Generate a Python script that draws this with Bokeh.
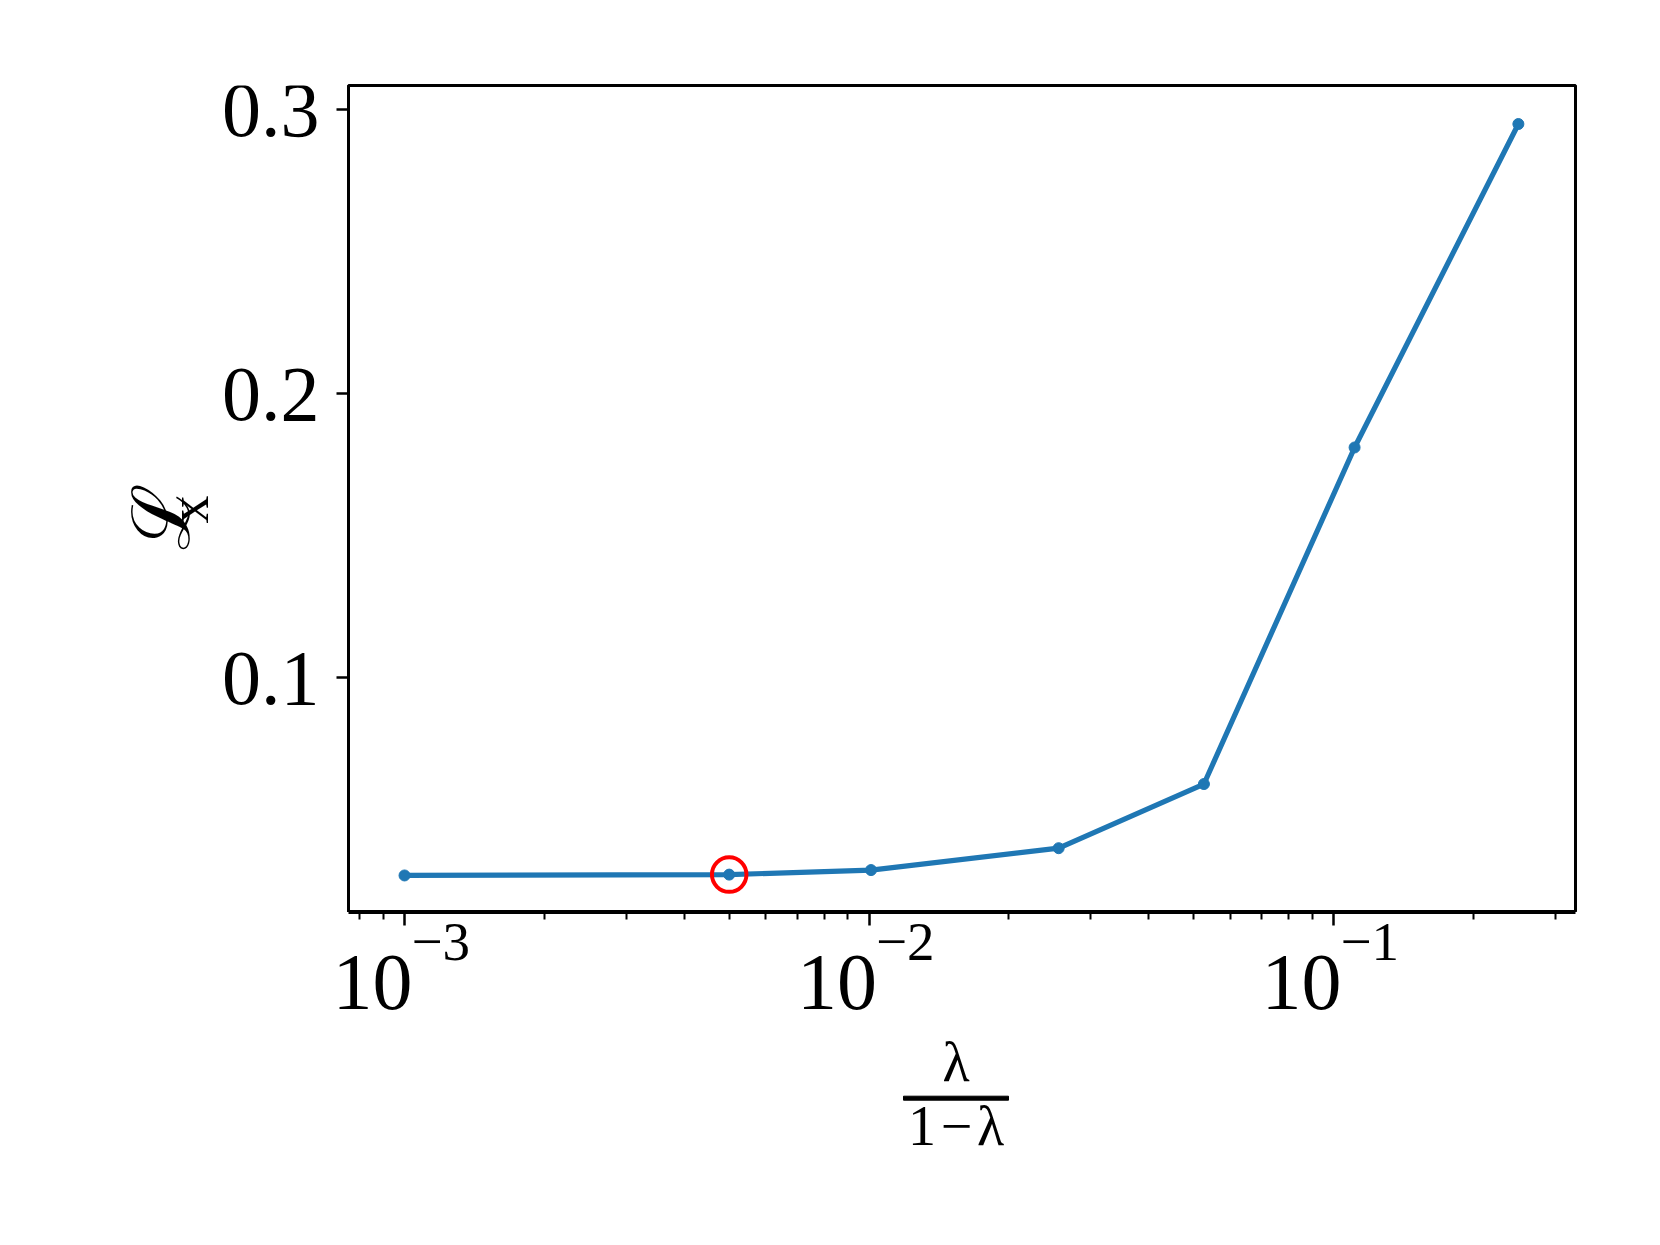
import math
from bokeh.plotting import figure
from bokeh.layouts import column, row
from bokeh.models import FixedTicker, Range1d
from bokeh.core.properties import value
from bokeh.embed import file_html
from bokeh.resources import INLINE

# ---- data ----
ratio = [0.001, 0.005, 0.0101, 0.0256, 0.0526, 0.111, 0.25]      # lambda / (1 - lambda)
loss_x = [0.0304, 0.0307, 0.0323, 0.0400, 0.0626, 0.1811, 0.2950]
highlight_ratio = [0.005]
highlight_loss = [0.0307]

x_tick_values = [0.001, 0.01, 0.1]
x_tick_base = ["10", "10", "10"]
x_tick_exp = ["\u22123", "\u22122", "\u22121"]
y_tick_values = [0.1, 0.2, 0.3]
y_tick_labels = ["0.1", "0.2", "0.3"]
x_label_num = "\u03bb"
x_label_den = "1\u200a\u2212\u200a\u03bb"
y_label_main = "\u2112"
y_label_sub = "x"

FONT = "Liberation Serif"
BLUE = "#1f77b4"

# ---- layout geometry (pixels) ----
AX_W = 14             # room for the y tick marks inside the main figure
FRAME_L = 348         # frame left edge on the page
LEFT_W = FRAME_L - AX_W   # strip with y tick labels and y-axis title
FRAME_W, FRAME_H = 1227, 827
TOP = 85
RIGHT = 70
TOTAL_W = FRAME_L + FRAME_W + RIGHT
TOP_H = TOP + FRAME_H
STRIP_H = 320

L0, L1 = -3.1206, -0.4791   # log10 of x range
dpp = (L1 - L0) / FRAME_W   # decades per pixel
Y0, Y1 = 0.01736, 0.30856   # y range
dpy = (Y1 - Y0) / FRAME_H   # y units per pixel

# ---- main plot ----
p = figure(
    x_axis_type="log",
    x_range=Range1d(10 ** L0, 10 ** L1),
    y_range=Range1d(Y0, Y1),
    x_axis_location=None,
    frame_width=FRAME_W, frame_height=FRAME_H,
    min_border_left=AX_W, min_border_right=RIGHT,
    min_border_top=TOP, min_border_bottom=0,
    output_backend="svg", toolbar_location=None,
    background_fill_color="white", border_fill_color="white",
)
p.grid.visible = False
p.outline_line_color = "black"
p.outline_line_width = 3
p.outline_line_alpha = 1

p.yaxis.ticker = FixedTicker(ticks=y_tick_values, minor_ticks=[])
p.yaxis.major_label_overrides = {v: "" for v in y_tick_values}
p.yaxis.major_label_text_font_size = "0px"
p.yaxis.major_label_standoff = 0
p.yaxis.axis_line_width = 3
p.yaxis.major_tick_out = 12
p.yaxis.major_tick_in = 0
p.yaxis.minor_tick_line_color = None
p.yaxis.major_tick_line_width = 2.5

p.line(ratio, loss_x, line_width=5.2, color=BLUE)
p.scatter(ratio, loss_x, size=11, color=BLUE)
p.scatter(highlight_ratio, highlight_loss, marker="circle", size=34.5,
          fill_color=None, line_color="red", line_width=4)


def blank(fig):
    fig.grid.visible = False
    fig.outline_line_color = None
    return fig


# ---- left strip: y tick labels and y-axis title; frame aligned with the main frame ----
pl = blank(figure(width=LEFT_W, height=TOP_H, x_range=Range1d(0, LEFT_W),
                  y_range=Range1d(Y0, Y1),
                  min_border=0, min_border_top=TOP, min_border_bottom=0,
                  x_axis_location=None, y_axis_location=None,
                  output_backend="svg", toolbar_location=None))
pl.text(x=319, y=y_tick_values, text=y_tick_labels, y_offset=1, text_align="right",
        text_baseline="alphabetic", text_font=value(FONT), text_font_size="78px",
        text_color="black")


def ypix(sy):
    # page pixel row -> y value on the shared y mapping
    return Y0 + (TOP_H - sy) * dpy


pl.text(x=[161], y=[ypix(549)], text=[y_label_main], angle=math.pi / 2, text_align="left",
        text_baseline="alphabetic", text_font=value("DejaVu Serif"), text_font_size="80px",
        text_color="black")
pl.text(x=[188], y=[ypix(523)], text=[y_label_sub], angle=math.pi / 2, text_align="left",
        text_baseline="alphabetic", text_font=value(FONT), text_font_size="56px",
        text_color="black")

# ---- bottom strip: x ticks, tick labels and x-axis title, same log x mapping ----
pb = blank(figure(width=TOTAL_W, height=STRIP_H, x_axis_type="log",
                  x_range=Range1d(10 ** (L0 - FRAME_L * dpp), 10 ** (L1 + RIGHT * dpp)),
                  y_range=Range1d(STRIP_H, 0),
                  x_axis_location="above", y_axis_location=None,
                  min_border=0, output_backend="svg", toolbar_location=None))
minor = [m * 10 ** e for e in range(-4, 0) for m in range(2, 10)
         if 10 ** L0 <= m * 10 ** e <= 10 ** L1]
ax = pb.xaxis[0]
ax.ticker = FixedTicker(ticks=x_tick_values, minor_ticks=minor)
ax.major_label_overrides = {v: "" for v in x_tick_values}
ax.major_label_text_font_size = "0px"
ax.major_label_standoff = 0
ax.axis_line_color = "black"
ax.axis_line_width = 3
ax.axis_line_cap = "butt"
ax.bounds = (10 ** L0, 10 ** L1)
ax.major_tick_out = 0
ax.major_tick_in = 13
ax.minor_tick_out = 0
ax.minor_tick_in = 7
ax.major_tick_line_width = 2.5
ax.minor_tick_line_width = 2

pb.text(x=x_tick_values, y=70, text=x_tick_base, x_offset=8, text_align="right",
        text_baseline="alphabetic", text_font=value(FONT), text_font_size="80px",
        text_color="black")
pb.text(x=x_tick_values, y=29, text=x_tick_exp, x_offset=7, text_align="left",
        text_baseline="alphabetic", text_font=value(FONT), text_font_size="55px",
        text_color="black")

fx = 10 ** ((L0 + L1) / 2 - 6 * dpp)
pb.text(x=[fx], y=[149], text=[x_label_num], text_align="center", text_baseline="alphabetic",
        text_font=value(FONT), text_font_size="56px", text_color="black")
pb.text(x=[fx], y=[213], text=[x_label_den], text_align="center", text_baseline="alphabetic",
        text_font=value(FONT), text_font_size="56px", text_color="black")
pb.rect(x=[fx], y=[185.7], width=105, height=4, width_units="screen", height_units="screen",
        color="black")

layout = column(row(pl, p, spacing=0), pb, spacing=0)
open("out.html", "w").write(file_html(layout, INLINE))
